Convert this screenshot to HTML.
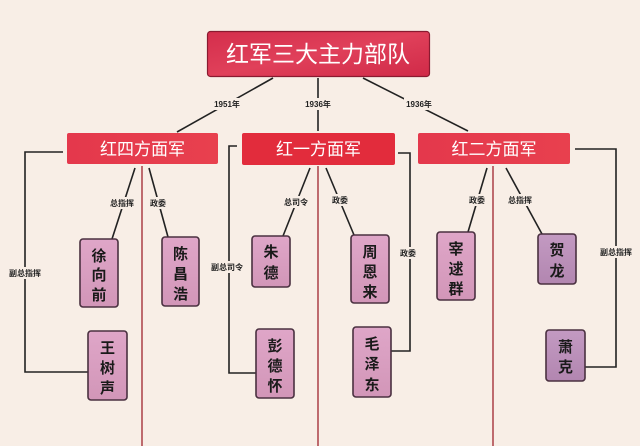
<!DOCTYPE html>
<html><head><meta charset="utf-8">
<style>
html,body{margin:0;padding:0;background:#f8eee6;}
svg{display:block;}
text{font-family:"Liberation Sans","Noto Sans CJK SC",sans-serif;}
</style></head>
<body>
<svg width="640" height="446" viewBox="0 0 640 446" xmlns="http://www.w3.org/2000/svg">
<defs>
<linearGradient id="top" x1="0" y1="0" x2="1" y2="1">
<stop offset="0" stop-color="#d42e4c"/><stop offset="0.5" stop-color="#e0405a"/><stop offset="1" stop-color="#d02a48"/>
</linearGradient>
<linearGradient id="sub" x1="0" y1="0" x2="1" y2="0">
<stop offset="0" stop-color="#e4384c"/><stop offset="1" stop-color="#e8404e"/>
</linearGradient>
<linearGradient id="pk" x1="0" y1="0" x2="0" y2="1">
<stop offset="0" stop-color="#dfa6c8"/><stop offset="1" stop-color="#d296b8"/>
</linearGradient>
<linearGradient id="lv" x1="0" y1="0" x2="0" y2="1">
<stop offset="0" stop-color="#c39ac2"/><stop offset="1" stop-color="#b286b0"/>
</linearGradient>
</defs>
<rect width="640" height="446" fill="#f8eee6"/>

<!-- red verticals -->
<g stroke="#b04a50" stroke-width="1.6">
<line x1="142" y1="166" x2="142" y2="446"/>
<line x1="318" y1="166" x2="318" y2="446"/>
<line x1="493" y1="166" x2="493" y2="446"/>
</g>

<!-- black connectors -->
<g stroke="#222" stroke-width="1.6" fill="none">
<line x1="273" y1="78" x2="177" y2="132"/>
<line x1="318" y1="78" x2="318" y2="131"/>
<line x1="363" y1="78" x2="468" y2="131"/>
<line x1="135" y1="168" x2="112" y2="239"/>
<line x1="149" y1="168" x2="168" y2="237"/>
<line x1="310" y1="168" x2="283" y2="236"/>
<line x1="326" y1="168" x2="354" y2="235"/>
<line x1="487" y1="168" x2="468" y2="232"/>
<line x1="506" y1="168" x2="542" y2="234"/>
<polyline points="63,152 25,152 25,372 88,372"/>
<polyline points="237,146 229,146 229,373 256,373"/>
<polyline points="398,153 410,153 410,351 391,351"/>
<polyline points="575,149 616,149 616,367 585,367"/>
</g>

<!-- label backgrounds -->
<g fill="#f8eee6">
<rect x="212" y="98" width="30" height="12"/>
<rect x="305" y="98" width="26" height="12"/>
<rect x="404" y="98" width="30" height="12"/>
<rect x="110" y="197" width="25" height="12"/>
<rect x="150" y="197" width="16" height="12"/>
<rect x="284" y="196" width="24" height="12"/>
<rect x="332" y="194" width="16" height="12"/>
<rect x="469" y="194" width="16" height="12"/>
<rect x="508" y="194" width="24" height="12"/>
<rect x="8" y="267" width="34" height="12"/>
<rect x="210" y="261" width="34" height="12"/>
<rect x="400" y="247" width="16" height="12"/>
<rect x="599" y="246" width="34" height="12"/>
</g>
<g font-size="8" font-weight="bold" fill="#222" text-anchor="middle">
<text x="227" y="107">1951年</text>
<text x="318" y="107">1936年</text>
<text x="419" y="107">1936年</text>
<text x="122" y="206">总指挥</text>
<text x="158" y="206">政委</text>
<text x="296" y="205">总司令</text>
<text x="340" y="203">政委</text>
<text x="477" y="203">政委</text>
<text x="520" y="203">总指挥</text>
<text x="25" y="276">副总指挥</text>
<text x="227" y="270">副总司令</text>
<text x="408" y="256">政委</text>
<text x="616" y="255">副总指挥</text>
</g>

<!-- top box -->
<rect x="207.5" y="31.5" width="222" height="45" rx="3" fill="url(#top)" stroke="#8a1a30" stroke-width="1.2"/>
<text x="318" y="62" font-size="23" fill="#fff" text-anchor="middle" font-family="Noto Sans CJK SC, sans-serif">红军三大主力部队</text>

<!-- army boxes -->
<rect x="67" y="133" width="151" height="31" rx="2" fill="url(#sub)"/>
<text x="142.5" y="155" font-size="17" fill="#fff" text-anchor="middle">红四方面军</text>
<rect x="242" y="133" width="153" height="32" rx="2" fill="#e22c3c"/>
<text x="318.5" y="155" font-size="17" fill="#fff" text-anchor="middle">红一方面军</text>
<rect x="418" y="133" width="152" height="31" rx="2" fill="url(#sub)"/>
<text x="494" y="155" font-size="17" fill="#fff" text-anchor="middle">红二方面军</text>

<!-- person boxes -->
<g stroke="#4a3040" stroke-width="1.6">
<rect x="80" y="239" width="38" height="68" rx="3" fill="url(#pk)"/>
<rect x="162" y="237" width="37" height="69" rx="3" fill="url(#pk)"/>
<rect x="88" y="331" width="39" height="69" rx="3" fill="url(#pk)"/>
<rect x="252" y="236" width="38" height="51" rx="3" fill="url(#pk)"/>
<rect x="256" y="329" width="38" height="69" rx="3" fill="url(#pk)"/>
<rect x="351" y="235" width="38" height="68" rx="3" fill="url(#pk)"/>
<rect x="353" y="327" width="38" height="70" rx="3" fill="url(#pk)"/>
<rect x="437" y="232" width="38" height="68" rx="3" fill="url(#pk)"/>
<rect x="538" y="234" width="38" height="50" rx="3" fill="url(#lv)"/>
<rect x="546" y="330" width="39" height="51" rx="3" fill="url(#lv)"/>
</g>
<g font-size="15" font-weight="bold" fill="#1a1a1a" text-anchor="middle">
<text x="99" y="261">徐</text><text x="99" y="280">向</text><text x="99" y="300">前</text>
<text x="180.5" y="259">陈</text><text x="180.5" y="279">昌</text><text x="180.5" y="299">浩</text>
<text x="107.5" y="353">王</text><text x="107.5" y="373">树</text><text x="107.5" y="393">声</text>
<text x="271" y="257">朱</text><text x="271" y="278">德</text>
<text x="275" y="351">彭</text><text x="275" y="371">德</text><text x="275" y="391">怀</text>
<text x="370" y="257">周</text><text x="370" y="277">恩</text><text x="370" y="297">来</text>
<text x="372" y="349">毛</text><text x="372" y="369">泽</text><text x="372" y="390">东</text>
<text x="456" y="254">宰</text><text x="456" y="274">逑</text><text x="456" y="294">群</text>
<text x="557" y="255">贺</text><text x="557" y="276">龙</text>
<text x="565.5" y="352">萧</text><text x="565.5" y="372">克</text>
</g>
</svg>
</body></html>
